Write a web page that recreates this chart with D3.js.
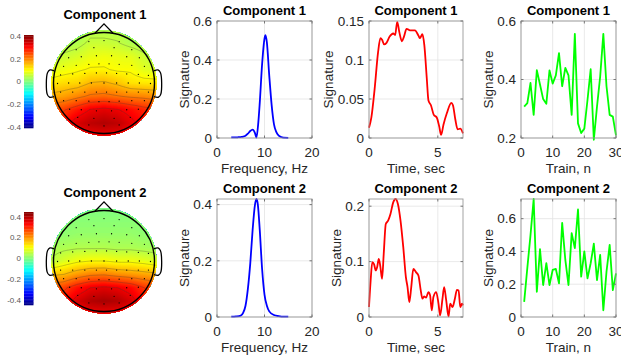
<!DOCTYPE html>
<html>
<head>
<meta charset="utf-8">
<script src="https://cdn.jsdelivr.net/npm/d3@7"></script>
<style>
  body { margin: 0; background: #fff; }
  svg { display: block; font-family: "Liberation Sans", Arial, sans-serif; }
</style>
</head>
<body>
<svg id="chart" width="621" height="358"></svg>
<script>
// ---- data ----
const titles = ["Component 1", "Component 2"];

const freqHz1 = [3, 3.5, 4, 4.5, 5, 5.5, 6, 6.5, 7, 7.5, 8, 8.3, 8.7, 9, 9.5, 10, 10.2, 10.5, 11, 11.5, 12, 12.5, 13, 13.5, 14, 15];
const freqSig1 = [0.003, 0.003, 0.003, 0.004, 0.005, 0.007, 0.012, 0.022, 0.036, 0.043, 0.025, 0.002, 0.08, 0.18, 0.38, 0.51, 0.527, 0.49, 0.32, 0.17, 0.07, 0.03, 0.012, 0.005, 0.002, 0.001];
const freqHz2 = [3, 4, 5, 5.5, 6, 6.5, 7, 7.5, 8, 8.3, 8.6, 9, 9.5, 10, 10.5, 11, 12, 13, 14, 15];
const freqSig2 = [0.001, 0.002, 0.005, 0.015, 0.04, 0.1, 0.19, 0.31, 0.40, 0.42, 0.40, 0.31, 0.17, 0.08, 0.04, 0.02, 0.007, 0.003, 0.001, 0.001];

const timeSec1 = [0, 0.17, 0.41, 0.66, 0.83, 0.95, 1.1, 1.27, 1.5, 1.76, 1.9, 2.05, 2.2, 2.39, 2.54, 2.73, 2.98, 3.34, 3.6, 3.7, 3.88, 4.02, 4.2, 4.32, 4.5, 4.7, 4.93, 5.1, 5.24, 5.41, 5.66, 5.98, 6.1, 6.27, 6.44, 6.63, 6.83];
const timeSig1 = [0.013, 0.026, 0.063, 0.11, 0.128, 0.126, 0.12, 0.122, 0.13, 0.134, 0.132, 0.149, 0.136, 0.124, 0.13, 0.14, 0.138, 0.138, 0.131, 0.128, 0.133, 0.119, 0.076, 0.048, 0.042, 0.030, 0.026, 0.015, 0.004, 0.017, 0.032, 0.045, 0.042, 0.024, 0.011, 0.012, 0.006];
const timeSec2 = [0, 0.12, 0.24, 0.37, 0.49, 0.59, 0.71, 0.83, 0.95, 1.07, 1.22, 1.39, 1.56, 1.76, 1.93, 2.1, 2.29, 2.49, 2.68, 2.8, 2.93, 3.07, 3.22, 3.41, 3.59, 3.76, 3.88, 4.0, 4.15, 4.32, 4.44, 4.56, 4.68, 4.88, 5.05, 5.17, 5.34, 5.46, 5.61, 5.78, 5.9, 6.07, 6.24, 6.39, 6.51, 6.63, 6.76, 6.83];
const timeSig2 = [0.018, 0.066, 0.099, 0.095, 0.084, 0.09, 0.105, 0.09, 0.069, 0.114, 0.168, 0.174, 0.186, 0.207, 0.213, 0.204, 0.174, 0.126, 0.072, 0.054, 0.027, 0.054, 0.087, 0.081, 0.075, 0.048, 0.033, 0.037, 0.035, 0.045, 0.039, 0.012, 0.036, 0.045, 0.024, 0.003, 0.033, 0.054, 0.03, 0.001, 0.024, 0.018, 0.033, 0.049, 0.048, 0.018, 0.024, 0.021];

const trainN = [1, 2, 3, 4, 5, 6, 7, 8, 9, 10, 11, 12, 13, 14, 15, 16, 17, 18, 19, 20, 21, 22, 23, 24, 25, 26, 27, 28, 29, 30];
const trainSig1 = [0.307, 0.319, 0.388, 0.279, 0.432, 0.383, 0.333, 0.317, 0.431, 0.386, 0.414, 0.49, 0.377, 0.44, 0.414, 0.279, 0.556, 0.25, 0.217, 0.232, 0.33, 0.435, 0.194, 0.307, 0.41, 0.556, 0.377, 0.279, 0.273, 0.209];
const trainSig2 = [0.092, 0.3, 0.5, 0.72, 0.154, 0.414, 0.195, 0.328, 0.195, 0.287, 0.293, 0.205, 0.574, 0.348, 0.195, 0.512, 0.42, 0.656, 0.246, 0.4, 0.236, 0.328, 0.447, 0.225, 0.379, 0.041, 0.277, 0.44, 0.164, 0.266];

// scalp maps: rows front -> back, columns left -> right
const headGrid1 = [
  [0.00, 0.02, 0.03, 0.04, 0.04, 0.04, 0.03, 0.02, 0.00],
  [0.01, 0.03, 0.04, 0.06, 0.06, 0.055, 0.04, 0.03, 0.01],
  [0.05, 0.06, 0.07, 0.085, 0.09, 0.085, 0.08, 0.06, 0.04],
  [0.08, 0.09, 0.10, 0.11, 0.11, 0.10, 0.10, 0.08, 0.07],
  [0.12, 0.13, 0.135, 0.16, 0.165, 0.15, 0.125, 0.12, 0.12],
  [0.17, 0.18, 0.20, 0.22, 0.225, 0.215, 0.205, 0.20, 0.19],
  [0.24, 0.26, 0.29, 0.32, 0.33, 0.32, 0.30, 0.28, 0.27],
  [0.28, 0.30, 0.34, 0.36, 0.37, 0.36, 0.33, 0.30, 0.28],
  [0.29, 0.30, 0.31, 0.32, 0.32, 0.32, 0.31, 0.30, 0.29]
];
const headGrid2 = [
  [-0.01, 0.00, 0.00, 0.00, 0.00, 0.00, 0.00, 0.00, -0.01],
  [0.00, 0.005, 0.01, 0.01, 0.01, 0.01, 0.01, 0.005, 0.00],
  [0.01, 0.015, 0.02, 0.02, 0.02, 0.02, 0.02, 0.015, 0.01],
  [0.035, 0.04, 0.045, 0.045, 0.045, 0.04, 0.04, 0.035, 0.03],
  [0.05, 0.08, 0.10, 0.11, 0.11, 0.10, 0.10, 0.09, 0.075],
  [0.16, 0.17, 0.20, 0.22, 0.225, 0.21, 0.20, 0.19, 0.18],
  [0.26, 0.28, 0.32, 0.35, 0.36, 0.35, 0.33, 0.29, 0.27],
  [0.29, 0.32, 0.37, 0.40, 0.41, 0.40, 0.37, 0.32, 0.29],
  [0.30, 0.31, 0.33, 0.34, 0.34, 0.34, 0.33, 0.31, 0.30]
];
const colorLimits = [0.41, 0.445];
const cbarTicks = [-0.4, -0.2, 0, 0.2, 0.4];

// electrode positions (unit head radius)
const electrodes = [
  [-0.3, -0.82], [0, -0.84], [0.3, -0.82],
  [-0.55, -0.66], [-0.2, -0.7], [0.2, -0.7], [0.55, -0.66],
  [-0.7, -0.5], [-0.45, -0.52], [-0.15, -0.54], [0.15, -0.54], [0.45, -0.52], [0.7, -0.5],
  [-0.8, -0.33], [-0.55, -0.35], [-0.3, -0.37], [-0.1, -0.38], [0.1, -0.38], [0.3, -0.37], [0.55, -0.35], [0.8, -0.33],
  [-0.86, -0.16], [-0.62, -0.18], [-0.38, -0.19], [-0.15, -0.2], [0.05, -0.2], [0.25, -0.19], [0.45, -0.18], [0.68, -0.17], [0.88, -0.15],
  [-0.92, 0.01], [-0.7, 0.0], [-0.48, 0.0], [-0.25, 0.0], [0, 0.0], [0.25, 0.0], [0.48, 0.0], [0.7, 0.0], [0.92, 0.01],
  [-0.86, 0.18], [-0.62, 0.18], [-0.38, 0.18], [-0.15, 0.18], [0.05, 0.18], [0.25, 0.18], [0.45, 0.18], [0.68, 0.18], [0.88, 0.18],
  [-0.8, 0.35], [-0.55, 0.35], [-0.3, 0.36], [-0.1, 0.37], [0.1, 0.37], [0.3, 0.36], [0.55, 0.35], [0.8, 0.35],
  [-0.68, 0.52], [-0.45, 0.53], [-0.15, 0.55], [0.15, 0.55], [0.45, 0.53], [0.68, 0.52],
  [-0.52, 0.68], [-0.2, 0.7], [0.2, 0.7], [0.52, 0.68],
  [-0.3, 0.83], [0, 0.85], [0.3, 0.83]
];

// ---- drawing ----
const svg = d3.select("#chart");
const fontLbl = 13.5;
const txtCol = "#262626";
const fmt = v => (v === 0 ? "0" : String(+v.toFixed(3)));

function jet(t) {
  t = Math.max(0, Math.min(1, t));
  const c = v => Math.round(255 * Math.max(0, Math.min(1, v)));
  return `rgb(${c(1.5 - Math.abs(4 * t - 3))},${c(1.5 - Math.abs(4 * t - 2))},${c(1.5 - Math.abs(4 * t - 1))})`;
}

function panel(o) {
  const g = svg.append("g");
  const x = d3.scaleLinear().domain(o.xDomain).range([o.x0, o.x1]);
  const y = d3.scaleLinear().domain(o.yDomain).range([o.y1, o.y0]);

  // grid
  g.selectAll(".gx").data(o.xTicks).enter().append("line")
    .attr("x1", d => x(d)).attr("x2", d => x(d)).attr("y1", o.y0).attr("y2", o.y1)
    .attr("stroke", "#e3e3e3").attr("stroke-width", 0.8);
  g.selectAll(".gy").data(o.yTicks).enter().append("line")
    .attr("x1", o.x0).attr("x2", o.x1).attr("y1", d => y(d)).attr("y2", d => y(d))
    .attr("stroke", "#e3e3e3").attr("stroke-width", 0.8);

  // curve
  const line = d3.line().x(d => x(d[0])).y(d => y(d[1])).curve(o.curve || d3.curveLinear);
  g.append("path").datum(d3.zip(o.xs, o.ys))
    .attr("d", line).attr("fill", "none").attr("stroke", o.color).attr("stroke-width", 1.8)
    .attr("stroke-linejoin", "round");

  // box + inward ticks
  g.append("rect").attr("x", o.x0).attr("y", o.y0).attr("width", o.x1 - o.x0).attr("height", o.y1 - o.y0)
    .attr("fill", "none").attr("stroke", "#9a9a9a").attr("stroke-width", 0.9);
  const tl = 2.5;
  o.xTicks.forEach(d => {
    g.append("line").attr("x1", x(d)).attr("x2", x(d)).attr("y1", o.y1).attr("y2", o.y1 - tl).attr("stroke", "#777");
    g.append("line").attr("x1", x(d)).attr("x2", x(d)).attr("y1", o.y0).attr("y2", o.y0 + tl).attr("stroke", "#777");
  });
  o.yTicks.forEach(d => {
    g.append("line").attr("x1", o.x0).attr("x2", o.x0 + tl).attr("y1", y(d)).attr("y2", y(d)).attr("stroke", "#777");
    g.append("line").attr("x1", o.x1).attr("x2", o.x1 - tl).attr("y1", y(d)).attr("y2", y(d)).attr("stroke", "#777");
  });

  // tick labels
  g.selectAll(".tx").data(o.xTicks).enter().append("text")
    .attr("x", d => x(d)).attr("y", o.y1 + 18.5).attr("text-anchor", "middle")
    .attr("font-size", fontLbl).attr("fill", txtCol).text(fmt);
  const yl = g.selectAll(".ty").data(o.yTicks).enter().append("text")
    .attr("x", o.x0 - 5).attr("y", d => y(d) + 4.8).attr("text-anchor", "end")
    .attr("font-size", fontLbl).attr("fill", txtCol).text(fmt);
  let maxW = 0;
  yl.each(function () { maxW = Math.max(maxW, this.getComputedTextLength()); });

  // labels and title
  g.append("text").attr("x", (o.x0 + o.x1) / 2).attr("y", o.y1 + 35).attr("text-anchor", "middle")
    .attr("font-size", fontLbl).attr("fill", txtCol).text(o.xlabel);
  g.append("text")
    .attr("transform", `translate(${o.x0 - 5 - maxW - 4.5},${(o.y0 + o.y1) / 2}) rotate(-90)`)
    .attr("text-anchor", "middle").attr("font-size", fontLbl).attr("fill", txtCol).text("Signature");
  g.append("text").attr("x", (o.x0 + o.x1) / 2).attr("y", o.y0 - 6).attr("text-anchor", "middle")
    .attr("font-size", 13).attr("font-weight", "bold").attr("fill", "#000").text(o.title);
}

function topo(grid, lim, cx, cy, r, title, cbY0, cbY1, id) {
  const g = svg.append("g");
  const n = grid.length, m = grid[0].length, sub = 10;
  const W = (m - 1) * sub + 1, H = (n - 1) * sub + 1;
  const vals = new Array(W * H);
  for (let j = 0; j < H; j++) {
    for (let i = 0; i < W; i++) {
      const gy = j / sub, gx = i / sub;
      const j0 = Math.min(Math.floor(gy), n - 2), i0 = Math.min(Math.floor(gx), m - 2);
      const fy = gy - j0, fx = gx - i0;
      vals[j * W + i] = (1 - fy) * ((1 - fx) * grid[j0][i0] + fx * grid[j0][i0 + 1])
        + fy * ((1 - fx) * grid[j0 + 1][i0] + fx * grid[j0 + 1][i0 + 1]);
    }
  }
  const k = 2.12 * r / (W - 1);
  const path = d3.geoPath(d3.geoTransform({
    point(px, py) { this.stream.point(cx + (px - W / 2) * k, cy + (py - H / 2) * k); }
  }));
  const clipId = "clip" + id;
  g.append("clipPath").attr("id", clipId).append("circle").attr("cx", cx).attr("cy", cy).attr("r", r + 2);
  const inner = g.append("g").attr("clip-path", `url(#${clipId})`);
  const step = 0.004;
  const levels = d3.range(-lim, lim, step);
  const norm = v => (v + lim) / (2 * lim);
  const vmin = d3.min(vals), vmax = d3.max(vals);
  inner.append("circle").attr("cx", cx).attr("cy", cy).attr("r", r + 3).attr("fill", jet(norm(vmin)));
  inner.selectAll("path.band").data(d3.contours().size([W, H]).thresholds(levels)(vals))
    .enter().append("path").attr("class", "band")
    .attr("d", path).attr("fill", d => jet(norm(d.value + step / 2))).attr("stroke", "none");
  const lineLevels = d3.range(1, 7).map(i => vmin + i * (vmax - vmin) / 7);
  inner.selectAll("path.iso").data(d3.contours().size([W, H]).thresholds(lineLevels)(vals))
    .enter().append("path").attr("class", "iso")
    .attr("d", path).attr("fill", "none").attr("stroke", "#3a3a3a").attr("stroke-opacity", 0.4).attr("stroke-width", 0.7);

  // electrodes
  g.selectAll("circle.el").data(electrodes).enter().append("circle").attr("class", "el")
    .attr("cx", d => cx + d[0] * r).attr("cy", d => cy + d[1] * r).attr("r", 0.65).attr("fill", "#000");

  // head outline, nose, ears
  g.append("circle").attr("cx", cx).attr("cy", cy).attr("r", r)
    .attr("fill", "none").attr("stroke", "#000").attr("stroke-width", 1.4);
  const hp = d3.line().x(d => cx + d[0] * r).y(d => cy + d[1] * r);
  g.append("path").attr("d", hp([[-0.18, -0.985], [0, -1.17], [0.18, -0.985]]))
    .attr("fill", "none").attr("stroke", "#000").attr("stroke-width", 1.3);
  const ear = [[-0.985, -0.24], [-1.07, -0.26], [-1.12, -0.2], [-1.125, 0.22], [-1.08, 0.28], [-0.99, 0.27]];
  const earLine = hp.curve(d3.curveCatmullRom);
  g.append("path").attr("d", earLine(ear)).attr("fill", "none").attr("stroke", "#000").attr("stroke-width", 1.3);
  g.append("path").attr("d", earLine(ear.map(d => [-d[0], d[1]]))).attr("fill", "none").attr("stroke", "#000").attr("stroke-width", 1.3);

  g.append("text").attr("x", cx + 1).attr("y", cy - r - 14).attr("text-anchor", "middle")
    .attr("font-size", 13).attr("font-weight", "bold").attr("fill", "#000").text(title);

  // colorbar
  const cb = d3.scaleLinear().domain([-lim, lim]).range([cbY1, cbY0]);
  const nb = 64;
  g.selectAll("rect.cb").data(d3.range(nb)).enter().append("rect").attr("class", "cb")
    .attr("x", 24).attr("width", 9.5)
    .attr("y", i => cb(-lim + (i + 1) * 2 * lim / nb))
    .attr("height", i => cb(-lim + i * 2 * lim / nb) - cb(-lim + (i + 1) * 2 * lim / nb) + 0.3)
    .attr("fill", i => jet((i + 0.5) / nb));
  g.selectAll("text.cbt").data(cbarTicks).enter().append("text").attr("class", "cbt")
    .attr("x", 21).attr("y", d => cb(d) + 2.8).attr("text-anchor", "end")
    .attr("font-size", 8).attr("fill", "#555").text(d => (d === 0 ? "0" : d.toFixed(1)));
}

topo(headGrid1, colorLimits[0], 104, 83, 50.5, titles[0], 35, 128, 1);
topo(headGrid2, colorLimits[1], 104, 261, 50.5, titles[1], 212, 305, 2);

const rows = [{ y0: 21, y1: 138 }, { y0: 199, y1: 317 }];
const cols = [{ x0: 217, x1: 312 }, { x0: 369, x1: 463 }, { x0: 521, x1: 616 }];

panel({ ...cols[0], ...rows[0], xDomain: [0, 20], yDomain: [0, 0.6], xTicks: [0, 10, 20], yTicks: [0, 0.2, 0.4, 0.6],
  xs: freqHz1, ys: freqSig1, color: "#0000ff", curve: d3.curveMonotoneX, title: titles[0], xlabel: "Frequency, Hz" });
panel({ ...cols[1], ...rows[0], xDomain: [0, 6.83], yDomain: [0, 0.15], xTicks: [0, 5], yTicks: [0, 0.05, 0.1, 0.15],
  xs: timeSec1, ys: timeSig1, color: "#ff0000", curve: d3.curveMonotoneX, title: titles[0], xlabel: "Time, sec" });
panel({ ...cols[2], ...rows[0], xDomain: [0, 30], yDomain: [0.2, 0.6], xTicks: [0, 10, 20, 30], yTicks: [0.2, 0.4, 0.6],
  xs: trainN, ys: trainSig1, color: "#00ff00", title: titles[0], xlabel: "Train, n" });

panel({ ...cols[0], ...rows[1], xDomain: [0, 20], yDomain: [0, 0.42], xTicks: [0, 10, 20], yTicks: [0, 0.2, 0.4],
  xs: freqHz2, ys: freqSig2, color: "#0000ff", curve: d3.curveMonotoneX, title: titles[1], xlabel: "Frequency, Hz" });
panel({ ...cols[1], ...rows[1], xDomain: [0, 6.83], yDomain: [0, 0.213], xTicks: [0, 5], yTicks: [0, 0.1, 0.2],
  xs: timeSec2, ys: timeSig2, color: "#ff0000", curve: d3.curveMonotoneX, title: titles[1], xlabel: "Time, sec" });
panel({ ...cols[2], ...rows[1], xDomain: [0, 30], yDomain: [0, 0.72], xTicks: [0, 10, 20, 30], yTicks: [0, 0.2, 0.4, 0.6],
  xs: trainN, ys: trainSig2, color: "#00ff00", title: titles[1], xlabel: "Train, n" });
</script>
</body>
</html>
